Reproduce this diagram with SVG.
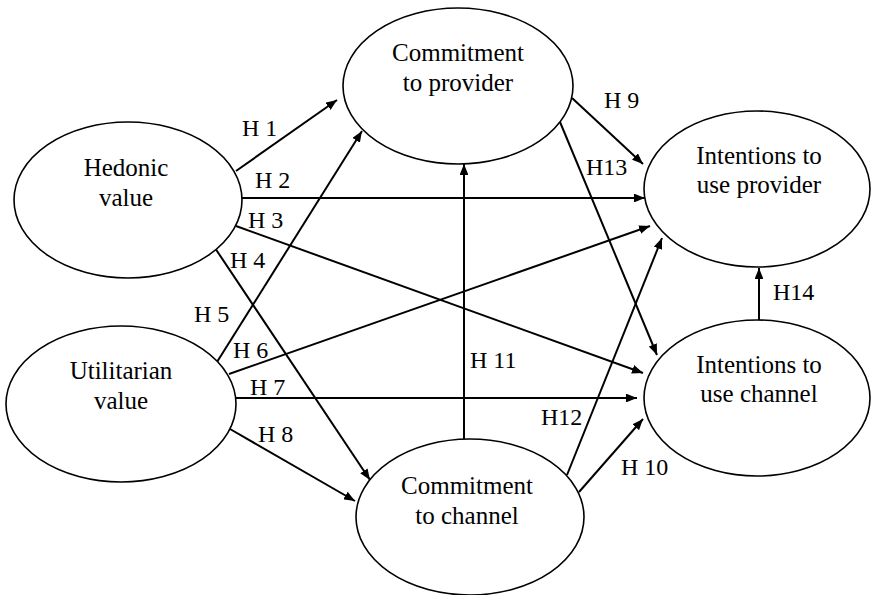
<svg xmlns="http://www.w3.org/2000/svg" width="871" height="595" viewBox="0 0 871 595">
<style>
.n ellipse{fill:#fff;stroke:#000;stroke-width:1.6}
.e line{stroke:#000;stroke-width:2;marker-end:url(#ah)}
</style>
<defs>
<marker id="ah" viewBox="0 0 10 8" refX="10" refY="4" markerWidth="5.5" markerHeight="4.4" orient="auto" markerUnits="strokeWidth">
<path d="M0,0 L10,4 L0,8 Z" fill="#000"/>
</marker>
</defs>
<rect width="871" height="595" fill="#fff"/>
<g class="e" id="connectors">
<line x1="236" y1="171" x2="337" y2="100"/>
<line x1="242" y1="198" x2="645" y2="198"/>
<line x1="236" y1="226" x2="643" y2="373"/>
<line x1="215" y1="248" x2="370" y2="480"/>
<line x1="217" y1="362" x2="362" y2="131"/>
<line x1="229" y1="374" x2="650" y2="226"/>
<line x1="236" y1="398" x2="637" y2="398"/>
<line x1="230" y1="429" x2="355" y2="501"/>
<line x1="572" y1="98" x2="643" y2="164"/>
<line x1="560" y1="122" x2="657" y2="355"/>
<line x1="464" y1="440" x2="464" y2="164"/>
<line x1="567" y1="475" x2="662" y2="238"/>
<line x1="579" y1="492" x2="643" y2="419"/>
<line x1="759" y1="320" x2="759" y2="268"/>
</g>
<g id="labels">
<text x="242" y="136" font-family="Liberation Serif" font-size="24">H 1</text>
<text x="255" y="188" font-family="Liberation Serif" font-size="24">H 2</text>
<text x="248" y="228" font-family="Liberation Serif" font-size="24">H 3</text>
<text x="230" y="268" font-family="Liberation Serif" font-size="24">H 4</text>
<text x="194" y="322" font-family="Liberation Serif" font-size="24">H 5</text>
<text x="233" y="358" font-family="Liberation Serif" font-size="24">H 6</text>
<text x="250" y="395" font-family="Liberation Serif" font-size="24">H 7</text>
<text x="258" y="442" font-family="Liberation Serif" font-size="24">H 8</text>
<text x="604" y="108" font-family="Liberation Serif" font-size="24">H 9</text>
<text x="586" y="175" font-family="Liberation Serif" font-size="24">H13</text>
<text x="470" y="368" font-family="Liberation Serif" font-size="24">H 11</text>
<text x="541" y="425" font-family="Liberation Serif" font-size="24">H12</text>
<text x="621" y="475" font-family="Liberation Serif" font-size="24">H 10</text>
<text x="773" y="300" font-family="Liberation Serif" font-size="24">H14</text>
</g>
<g class="n" id="hedonic">
<ellipse cx="128" cy="200" rx="114" ry="78"/>
<text x="126" y="176" text-anchor="middle" font-family="Liberation Serif" font-size="25">Hedonic</text>
<text x="126" y="206" text-anchor="middle" font-family="Liberation Serif" font-size="25">value</text>
</g>
<g class="n" id="utilitarian">
<ellipse cx="121" cy="404" rx="115" ry="78"/>
<text x="121" y="379" text-anchor="middle" font-family="Liberation Serif" font-size="25">Utilitarian</text>
<text x="121" y="409" text-anchor="middle" font-family="Liberation Serif" font-size="25">value</text>
</g>
<g class="n" id="commit-provider">
<ellipse cx="458" cy="86" rx="115" ry="78"/>
<text x="458" y="61" text-anchor="middle" font-family="Liberation Serif" font-size="25">Commitment</text>
<text x="458" y="91" text-anchor="middle" font-family="Liberation Serif" font-size="25">to provider</text>
</g>
<g class="n" id="commit-channel">
<ellipse cx="470" cy="517" rx="114" ry="78"/>
<text x="467" y="494" text-anchor="middle" font-family="Liberation Serif" font-size="25">Commitment</text>
<text x="467" y="524" text-anchor="middle" font-family="Liberation Serif" font-size="25">to channel</text>
</g>
<g class="n" id="int-provider">
<ellipse cx="757" cy="189" rx="113" ry="78"/>
<text x="759" y="164" text-anchor="middle" font-family="Liberation Serif" font-size="25">Intentions to</text>
<text x="759" y="193" text-anchor="middle" font-family="Liberation Serif" font-size="25">use provider</text>
</g>
<g class="n" id="int-channel">
<ellipse cx="757" cy="398" rx="113" ry="78"/>
<text x="759" y="373" text-anchor="middle" font-family="Liberation Serif" font-size="25">Intentions to</text>
<text x="759" y="402" text-anchor="middle" font-family="Liberation Serif" font-size="25">use channel</text>
</g>
</svg>
